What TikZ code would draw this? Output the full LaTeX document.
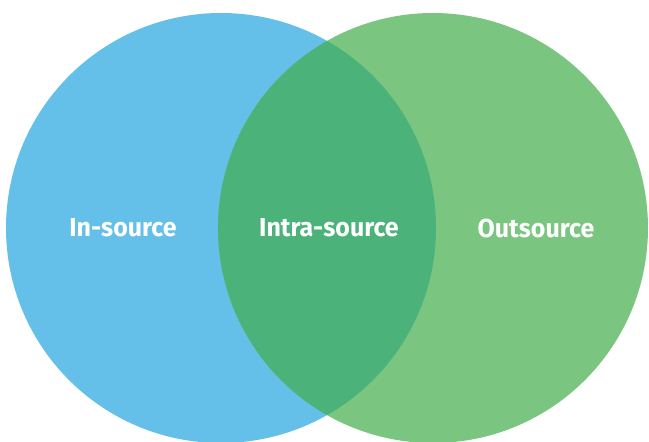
\documentclass[tikz,border=0pt]{standalone}
\usepackage{fontspec}
\setmainfont{Fira Sans}[FakeStretch=0.96]
\definecolor{inblue}{RGB}{100,192,232}
\definecolor{outgreen}{RGB}{122,198,128}
\definecolor{intragreen}{RGB}{75,178,122}
\tikzset{label/.style={text=white, font=\fontsize{26}{26}\selectfont\bfseries}}
\begin{document}
\begin{tikzpicture}[x=1pt, y=1pt]
\useasboundingbox (0,0) rectangle (649,442);
\coordinate (l) at (221,214);
\coordinate (r) at (433,214);
\fill[inblue] (l) circle(215);
\fill[outgreen] (r) circle(215);
\begin{scope}
\clip (l) circle(215);
\fill[intragreen] (r) circle(215);
\end{scope}
\node[label] (in) at (123,214) {In-source};
\node[label] (intra) at (329,214) {Intra-source};
\node[label] (out) at (536,214) {Outsource};
\end{tikzpicture}
\end{document}
